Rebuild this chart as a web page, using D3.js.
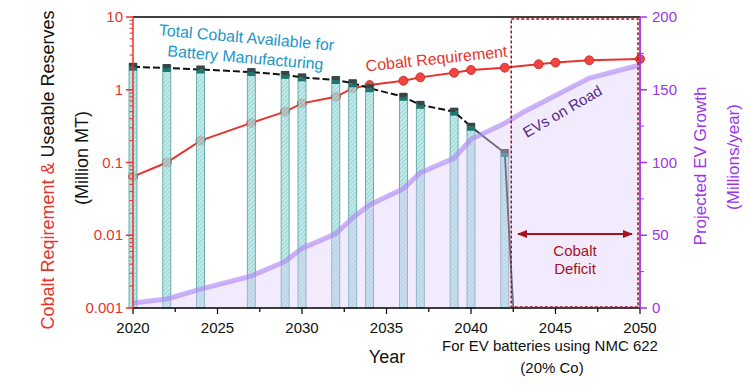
<!DOCTYPE html>
<html>
<head>
<meta charset="utf-8">
<script src="https://cdn.jsdelivr.net/npm/d3@7"></script>
<style>
  body { margin: 0; background: #fff; }
  svg { font-family: "Liberation Sans", Arial, sans-serif; }
</style>
</head>
<body>
<div id="chart"></div>
<script>
// Cobalt available for battery manufacturing (million MT), one bar per year
const barYears = [2020, 2022, 2024, 2027, 2029, 2030, 2032, 2033, 2034, 2036, 2037, 2039, 2040, 2042];
const barValues = [2.07, 1.99, 1.90, 1.75, 1.60, 1.48, 1.36, 1.23, 1.05, 0.80, 0.62, 0.50, 0.31, 0.135];

// Cobalt requirement (million MT)
const reqYears = [2020, 2022, 2024, 2027, 2029, 2030, 2032, 2033, 2034, 2036, 2037, 2039, 2040, 2042, 2044, 2045, 2047, 2050];
const reqValues = [0.064, 0.10, 0.20, 0.35, 0.50, 0.65, 0.80, 1.05, 1.16, 1.33, 1.48, 1.71, 1.87, 2.01, 2.24, 2.36, 2.54, 2.65];

// EVs on road (millions/year)
const evYears = [2020, 2022, 2024, 2027, 2029, 2030, 2032, 2033, 2034, 2036, 2037, 2039, 2040, 2042, 2043, 2045, 2047, 2050];
const evValues = [3.5, 6.2, 13, 22, 32, 41, 51, 62, 71, 82, 93, 103, 116, 127, 134, 146, 158, 167];

// reserves run out right after the last bar
const deficitStart = 2042.5;

const xTicks = [2020, 2025, 2030, 2035, 2040, 2045, 2050];
const leftTicks = [0.001, 0.01, 0.1, 1, 10];
const rightTicks = [0, 50, 100, 150, 200];

const width = 750, height = 385;
const pLeft = 133, pRight = 640, pTop = 17, pBottom = 308;

const red = '#e8332c', purple = '#9d35e8', darkRed = '#a5121c', teal = '#1b98c6';

const svg = d3.select('#chart').append('svg')
  .attr('width', width)
  .attr('height', height);

const x = d3.scaleLinear().domain([2020, 2050]).range([pLeft, pRight]);
const yL = d3.scaleLog().domain([0.001, 10]).range([pBottom, pTop]);
const yR = d3.scaleLinear().domain([0, 200]).range([pBottom, pTop]);

// hatch pattern for bars
const defs = svg.append('defs');
const pat = defs.append('pattern')
  .attr('id', 'hatch')
  .attr('patternUnits', 'userSpaceOnUse')
  .attr('width', 3).attr('height', 3)
  .attr('patternTransform', 'rotate(45)');
pat.append('rect').attr('width', 3).attr('height', 3).attr('fill', '#b5e6e4');
pat.append('line').attr('x1', 0).attr('y1', 0).attr('x2', 0).attr('y2', 3)
  .attr('stroke', '#5cb8b6').attr('stroke-width', 1.2);

const arrowDef = (id, orient) => defs.append('marker')
  .attr('id', id)
  .attr('viewBox', '0 0 10 10')
  .attr('refX', 9).attr('refY', 5)
  .attr('markerWidth', 5).attr('markerHeight', 5)
  .attr('orient', orient)
  .append('path').attr('d', 'M0,1 L10,5 L0,9 z').attr('fill', darkRed);
arrowDef('arrEnd', 'auto');
arrowDef('arrStart', 'auto-start-reverse');

// cobalt requirement line (under bars)
const reqData = reqYears.map((yr, i) => [yr, reqValues[i]]);
svg.append('path')
  .datum(reqData)
  .attr('fill', 'none')
  .attr('stroke', red)
  .attr('stroke-width', 2)
  .attr('d', d3.line().x(d => x(d[0])).y(d => yL(d[1])));
svg.selectAll('circle.req')
  .data(reqData)
  .join('circle')
  .attr('class', 'req')
  .attr('cx', d => x(d[0]))
  .attr('cy', d => yL(d[1]))
  .attr('r', 4.5)
  .attr('fill', '#f0463f')
  .attr('stroke', '#c42620')
  .attr('stroke-width', 0.8);

// bars
const barW = 8;
const barData = barYears.map((yr, i) => [yr, barValues[i]]);
svg.selectAll('rect.bar')
  .data(barData)
  .join('rect')
  .attr('class', 'bar')
  .attr('x', d => x(d[0]) - barW / 2)
  .attr('y', d => yL(d[1]) - 3)
  .attr('width', barW)
  .attr('height', d => pBottom - yL(d[1]) + 3)
  .attr('fill', 'url(#hatch)')
  .attr('fill-opacity', 0.8)
  .attr('stroke', '#4e9d9c')
  .attr('stroke-width', 0.8);

// black dashed reserves line, solid once it falls off
const resData = barData.concat([[deficitStart, 0.001]]);
const resLine = d3.line().x(d => x(d[0])).y(d => yL(d[1]));
svg.append('path')
  .datum(resData.slice(0, resData.length - 2))
  .attr('fill', 'none')
  .attr('stroke', '#111')
  .attr('stroke-width', 2)
  .attr('stroke-dasharray', '7,3')
  .attr('d', resLine);
svg.append('path')
  .datum(resData.slice(resData.length - 3))
  .attr('fill', 'none')
  .attr('stroke', '#333')
  .attr('stroke-width', 1.8)
  .attr('d', resLine);

// caps on bars
svg.selectAll('rect.capT')
  .data(barData)
  .join('rect')
  .attr('class', 'capT')
  .attr('x', d => x(d[0]) - barW / 2)
  .attr('y', d => yL(d[1]) - 4)
  .attr('width', barW)
  .attr('height', 4)
  .attr('fill', '#3b4545');
svg.selectAll('rect.capB')
  .data(barData)
  .join('rect')
  .attr('class', 'capB')
  .attr('x', d => x(d[0]) - barW / 2)
  .attr('y', d => yL(d[1]))
  .attr('width', barW)
  .attr('height', 4)
  .attr('fill', '#1f7670');

// EV area + line
const evData = evYears.map((yr, i) => [yr, evValues[i]]);
svg.append('path')
  .datum(evData)
  .attr('fill', '#dccafa')
  .attr('fill-opacity', 0.38)
  .attr('d', d3.area().x(d => x(d[0])).y0(pBottom).y1(d => yR(d[1])));
svg.append('path')
  .datum(evData)
  .attr('fill', 'none')
  .attr('stroke', '#ad84f2')
  .attr('stroke-opacity', 0.62)
  .attr('stroke-width', 5)
  .attr('stroke-linejoin', 'round')
  .attr('d', d3.line().x(d => x(d[0])).y(d => yR(d[1])));

// frame top
svg.append('line').attr('x1', pLeft).attr('x2', pRight).attr('y1', pTop).attr('y2', pTop)
  .attr('stroke', '#000').attr('stroke-width', 1.5);

// bottom axis
const xMinor = d3.range(2020, 2050.1, 2.5);
const gx = svg.append('g').attr('transform', `translate(0,${pBottom})`);
gx.append('line').attr('x1', pLeft).attr('x2', pRight).attr('stroke', '#000').attr('stroke-width', 1.5);
gx.selectAll('line.minor').data(xMinor).join('line')
  .attr('class', 'minor')
  .attr('x1', d => x(d)).attr('x2', d => x(d))
  .attr('y1', 0).attr('y2', d => (d % 5 === 0 ? 6 : 4))
  .attr('stroke', '#000').attr('stroke-width', 1.2);
gx.selectAll('text').data(xTicks).join('text')
  .attr('x', d => x(d)).attr('y', 25)
  .attr('text-anchor', 'middle')
  .attr('font-size', 15)
  .attr('fill', '#111')
  .text(d => d);

// left axis
const gl = svg.append('g').attr('transform', `translate(${pLeft},0)`);
const leftMinor = [];
[0.001, 0.01, 0.1, 1].forEach(dec => { for (let k = 2; k <= 9; k++) leftMinor.push(dec * k); });
gl.append('line').attr('y1', pTop).attr('y2', pBottom).attr('stroke', red).attr('stroke-width', 1.5);
gl.selectAll('line.mn').data(leftMinor).join('line')
  .attr('class', 'mn')
  .attr('x1', 0).attr('x2', -3.5)
  .attr('y1', d => yL(d)).attr('y2', d => yL(d))
  .attr('stroke', red).attr('stroke-width', 1);
gl.selectAll('line.mj').data(leftTicks).join('line')
  .attr('class', 'mj')
  .attr('x1', 0).attr('x2', -7)
  .attr('y1', d => yL(d)).attr('y2', d => yL(d))
  .attr('stroke', red).attr('stroke-width', 1.5);
gl.selectAll('text').data(leftTicks).join('text')
  .attr('x', -10).attr('y', d => yL(d) + 5)
  .attr('text-anchor', 'end')
  .attr('font-size', 15)
  .attr('fill', red)
  .text(d => d3.format('~g')(d));

// right axis
const gr = svg.append('g').attr('transform', `translate(${pRight},0)`);
gr.append('line').attr('y1', pTop).attr('y2', pBottom).attr('stroke', purple).attr('stroke-width', 1.8);
gr.selectAll('line.mn').data(d3.range(25, 200, 50)).join('line')
  .attr('class', 'mn')
  .attr('x1', 0).attr('x2', 4)
  .attr('y1', d => yR(d)).attr('y2', d => yR(d))
  .attr('stroke', purple).attr('stroke-width', 1);
gr.selectAll('line.mj').data(rightTicks).join('line')
  .attr('class', 'mj')
  .attr('x1', 0).attr('x2', 7)
  .attr('y1', d => yR(d)).attr('y2', d => yR(d))
  .attr('stroke', purple).attr('stroke-width', 1.5);
gr.selectAll('text').data(rightTicks).join('text')
  .attr('x', 12).attr('y', d => yR(d) + 5)
  .attr('font-size', 15)
  .attr('fill', purple)
  .text(d => d);

// deficit box
svg.append('rect')
  .attr('x', x(deficitStart) - 2)
  .attr('y', pTop + 2)
  .attr('width', x(2050) - x(deficitStart))
  .attr('height', pBottom - pTop - 3)
  .attr('fill', 'none')
  .attr('stroke', darkRed)
  .attr('stroke-width', 1.5)
  .attr('stroke-dasharray', '3,2');

// deficit arrow and label
svg.append('line')
  .attr('x1', 518).attr('x2', 632).attr('y1', 234).attr('y2', 234)
  .attr('stroke', darkRed).attr('stroke-width', 2)
  .attr('marker-start', 'url(#arrStart)')
  .attr('marker-end', 'url(#arrEnd)');
svg.append('text').attr('x', 575).attr('y', 256).attr('text-anchor', 'middle')
  .attr('font-size', 15).attr('fill', darkRed).text('Cobalt');
svg.append('text').attr('x', 575).attr('y', 274).attr('text-anchor', 'middle')
  .attr('font-size', 15).attr('fill', darkRed).text('Deficit');

// annotations
svg.append('text')
  .attr('transform', 'translate(246,43) rotate(5)')
  .attr('text-anchor', 'middle').attr('font-size', 16).attr('fill', teal)
  .text('Total Cobalt Available for');
svg.append('text')
  .attr('transform', 'translate(245,63) rotate(5)')
  .attr('text-anchor', 'middle').attr('font-size', 16).attr('fill', teal)
  .text('Battery Manufacturing');
svg.append('text')
  .attr('transform', 'translate(437,64) rotate(-6)')
  .attr('text-anchor', 'middle').attr('font-size', 16).attr('fill', red)
  .text('Cobalt Requirement');
svg.append('text')
  .attr('transform', 'translate(565,116) rotate(-30)')
  .attr('text-anchor', 'middle').attr('font-size', 15).attr('fill', '#4e2a86')
  .text('EVs on Road');

// axis titles
const lt = svg.append('text')
  .attr('transform', 'translate(54,170) rotate(-90)')
  .attr('text-anchor', 'middle').attr('font-size', 18);
lt.append('tspan').attr('fill', red).text('Cobalt Reqirement & ');
lt.append('tspan').attr('fill', '#111').text('Useable Reserves');
svg.append('text')
  .attr('transform', 'translate(88,158) rotate(-90)')
  .attr('text-anchor', 'middle').attr('font-size', 18).attr('fill', '#111')
  .text('(Million MT)');

svg.append('text')
  .attr('transform', 'translate(706,166) rotate(-90)')
  .attr('text-anchor', 'middle').attr('font-size', 17).attr('fill', purple)
  .text('Projected EV Growth');
svg.append('text')
  .attr('transform', 'translate(739,157) rotate(-90)')
  .attr('text-anchor', 'middle').attr('font-size', 17).attr('fill', purple)
  .text('(Millions/year)');

svg.append('text').attr('x', 387).attr('y', 363).attr('text-anchor', 'middle')
  .attr('font-size', 18).attr('fill', '#111').text('Year');
svg.append('text').attr('x', 550).attr('y', 351).attr('text-anchor', 'middle')
  .attr('font-size', 15).attr('fill', '#111').text('For EV batteries using NMC 622');
svg.append('text').attr('x', 552).attr('y', 373).attr('text-anchor', 'middle')
  .attr('font-size', 15).attr('fill', '#111').text('(20% Co)');
</script>
</body>
</html>
